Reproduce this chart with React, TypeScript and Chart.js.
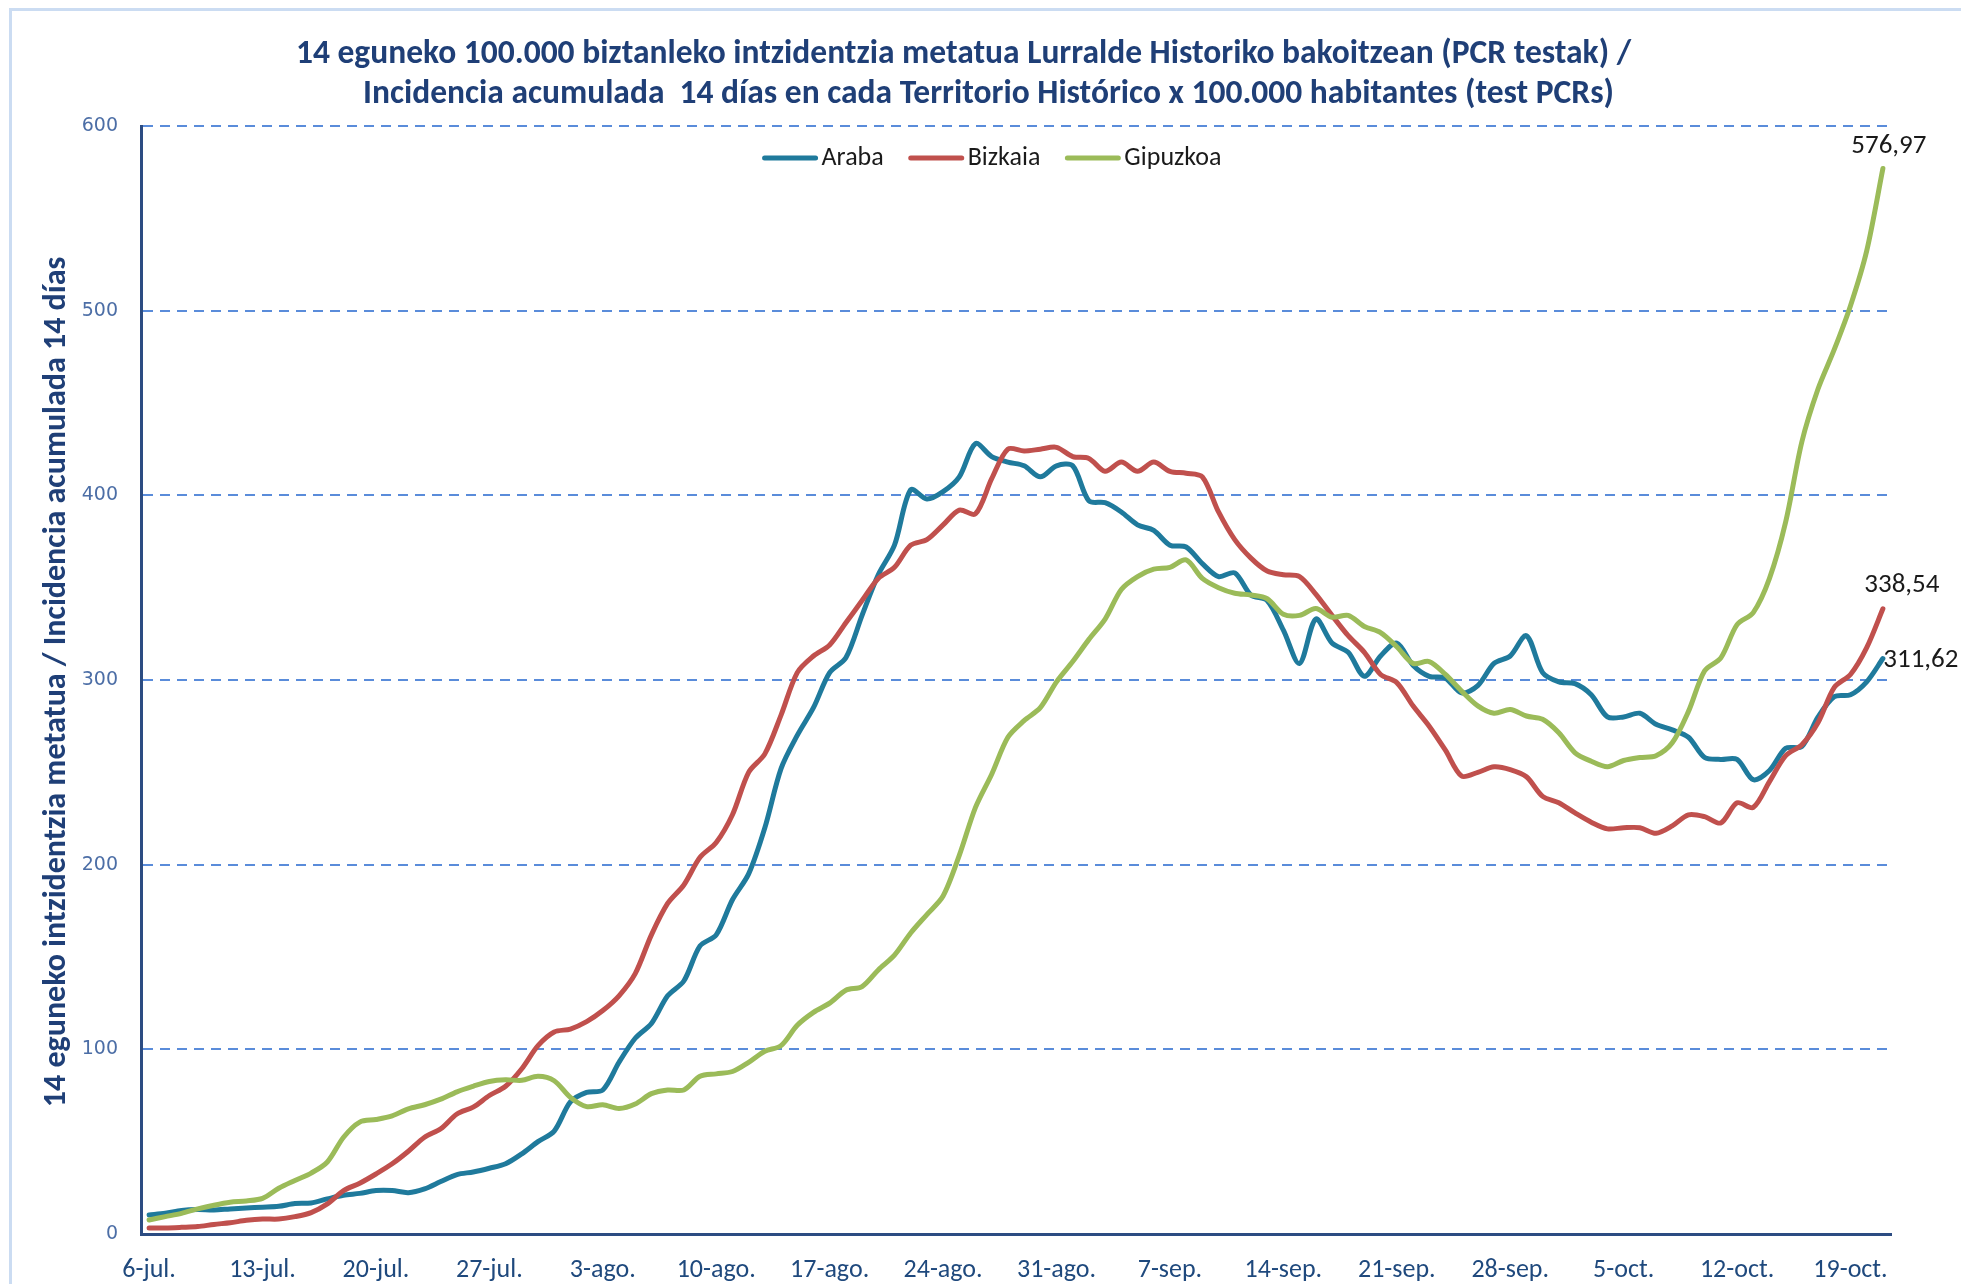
import React, { useEffect, useRef } from "react";
import { Chart, registerables } from "chart.js";

Chart.register(...registerables);

// ---------- categories ----------
const MONTH_NAMES = ["jul.", "ago.", "sep.", "oct."];
const MONTH_FIRST_DAY = [6, 1, 1, 1];
const MONTH_LAST_DAY = [31, 31, 30, 21];
const DATES: string[] = [];
MONTH_NAMES.forEach((m, k) => {
  for (let d = MONTH_FIRST_DAY[k]; d <= MONTH_LAST_DAY[k]; d++) DATES.push(`${d}-${m}`);
});

const TICK_LABELS = [
  "6-jul.", "13-jul.", "20-jul.", "27-jul.", "3-ago.", "10-ago.", "17-ago.", "24-ago.",
  "31-ago.", "7-sep.", "14-sep.", "21-sep.", "28-sep.", "5-oct.", "12-oct.", "19-oct.",
];

// ---------- series ----------
const ARABA = [
  10.3, 11.2, 12.7, 13.2, 13.0, 13.6, 14.1, 14.5, 15.0, 16.5,
  16.8, 19.0, 21.0, 22.0, 23.5, 23.5, 22.4, 24.4, 28.4, 32.2,
  33.6, 35.6, 38.0, 43.4, 50.0, 55.7, 71.5, 76.7, 78.0, 93.0,
  106, 114, 129, 137, 156, 162, 181, 195, 220, 252,
  270, 285, 304, 312, 335, 357, 373, 403, 398, 402,
  410, 428, 421, 418, 416, 410, 416, 416, 397, 396,
  391, 384, 381, 373, 372, 363, 356, 358, 346, 343,
  327, 309, 333, 320, 315, 302, 313, 320, 308, 302,
  301, 293, 297, 309, 313, 324, 304, 299, 298, 292,
  280, 280, 282, 276, 273, 269, 258, 257, 257, 246,
  251, 263, 264, 280, 291, 292, 299, 311.62,
];
const BIZKAIA = [
  3.3, 3.3, 3.6, 4.0, 5.2, 6.1, 7.4, 8.1, 8.1, 9.4,
  11.6, 16.3, 23.5, 27.5, 32.5, 38, 44.8, 52.4, 57, 65,
  68.7, 75, 80, 89.5, 102, 109.4, 111, 115, 121, 129,
  141, 162, 179, 189, 204, 212, 227, 250, 260, 281,
  304, 313, 319, 331, 343, 355, 361, 373, 376, 384,
  392, 390, 409, 425, 424, 425, 426, 421, 420, 413,
  418, 413, 418, 413, 412, 410, 391, 376, 366, 359,
  357, 356, 346.5, 335, 324, 315, 303, 298.6, 286, 275,
  262, 248, 250, 253, 251.5, 247.6, 237, 233.5, 228, 223,
  219.4, 220, 220, 217, 221, 227, 226, 222.6, 233.5, 231,
  245, 259, 265, 277, 296, 303, 317.5, 338.54,
];
const GIPUZKOA = [
  7.6, 9.4, 11.2, 13.6, 15.6, 17.2, 17.9, 19.3, 24.8, 29,
  33, 39, 52.4, 60.6, 62, 64, 67.8, 70, 73, 77,
  80, 82.6, 83.5, 83.2, 85.4, 83, 74, 69, 70, 68,
  70.4, 76, 78, 78, 85.4, 86.7, 88, 93, 99, 102,
  113, 120, 125, 132, 134, 143, 151, 163, 173, 183,
  205, 231, 249, 269, 278, 285, 299, 310, 322, 333,
  349, 356, 360, 361, 365, 355, 350, 347, 346, 344,
  335.6, 335, 338.7, 334, 335, 329, 325.7, 318, 309, 310,
  303, 294, 286, 282, 284, 280.5, 278.7, 271.4, 260.6, 256,
  253, 256.4, 258, 259, 266, 283, 305, 312, 330, 336.5,
  355, 385.6, 429, 457.7, 479, 502.7, 532.4, 576.97,
];

const SERIES_NAMES = ["Araba", "Bizkaia", "Gipuzkoa"];
const SERIES_VALUES = [ARABA, BIZKAIA, GIPUZKOA];
const SERIES_COLORS = ["#1F7A9C", "#C0504D", "#9BBB59"];
// offset of the last-value label relative to the last point (dx, dy of text centre)
const LAST_LABEL_OFFSETS = [[38, 2], [19, -24], [6, -22]];

const TITLE_LINES = [
  "14 eguneko 100.000 biztanleko intzidentzia metatua Lurralde Historiko bakoitzean (PCR testak) /",
  "Incidencia acumulada  14 días en cada Territorio Histórico x 100.000 habitantes (test PCRs)",
];
const TITLE_SHIFT = [-17, 8];
const Y_TITLE = "14 eguneko intzidentzia metatua / Incidencia acumulada 14 días";

const Y_MIN = 0;
const Y_MAX = 600;
const Y_STEP = 100;

const NARROW = "Carlito, 'Liberation Sans Narrow', 'Open Sans', sans-serif";
const TITLE_COLOR = "#1F3F77";
const AXIS_COLOR = "#2C4C82";
const GRID_COLOR = "#5A8CDA";

const fmt = (v: number) => v.toFixed(2).replace(".", ",");

const overlayPlugin = {
  id: "overlay",
  beforeDraw(chart: any) {
    const { ctx, width, height } = chart;
    ctx.save();
    ctx.fillStyle = "#ffffff";
    ctx.fillRect(0, 0, width, height);
    ctx.strokeStyle = "#CBDCF2";
    ctx.lineWidth = 3;
    ctx.strokeRect(10.5, 9.5, width + 40, height + 40);
    ctx.restore();
  },
  afterDraw(chart: any) {
    const { ctx, width, chartArea } = chart;
    ctx.save();
    // title
    ctx.fillStyle = TITLE_COLOR;
    ctx.font = `bold 33.5px ${NARROW}`;
    ctx.textAlign = "center";
    ctx.textBaseline = "middle";
    TITLE_LINES.forEach((t, i) => ctx.fillText(t, width / 2 + TITLE_SHIFT[i], 55 + i * 40));

    // y axis title
    ctx.save();
    ctx.translate(57, (chartArea.top + chartArea.bottom) / 2 + 2);
    ctx.rotate(-Math.PI / 2);
    ctx.font = `bold 32px ${NARROW}`;
    ctx.fillText(Y_TITLE, 0, 0);
    ctx.restore();

    // legend
    ctx.font = `26px ${NARROW}`;
    ctx.textAlign = "left";
    const lineLen = 55;
    const gapText = 4;
    const gapItem = 25;
    const widths = SERIES_NAMES.map((n) => lineLen + gapText + ctx.measureText(n).width);
    const total = widths.reduce((a, b) => a + b, 0) + gapItem * (SERIES_NAMES.length - 1);
    let x = 992 - total / 2;
    const ly = 158;
    SERIES_NAMES.forEach((n, i) => {
      ctx.strokeStyle = SERIES_COLORS[i];
      ctx.lineWidth = 5;
      ctx.lineCap = "round";
      ctx.beginPath();
      ctx.moveTo(x + 2, ly);
      ctx.lineTo(x + lineLen - 2, ly);
      ctx.stroke();
      ctx.fillStyle = "#1a1a1a";
      ctx.fillText(n, x + lineLen + gapText, ly);
      x += widths[i] + gapItem;
    });

    // last value labels
    ctx.font = `27px ${NARROW}`;
    ctx.textAlign = "center";
    ctx.fillStyle = "#1a1a1a";
    SERIES_VALUES.forEach((vals, i) => {
      const meta = chart.getDatasetMeta(i);
      const pt = meta.data[vals.length - 1];
      if (!pt) return;
      const [dx, dy] = LAST_LABEL_OFFSETS[i];
      ctx.fillText(fmt(vals[vals.length - 1]), pt.x + dx, pt.y + dy);
    });
    ctx.restore();
  },
};

export default function App() {
  const ref = useRef<HTMLCanvasElement | null>(null);
  useEffect(() => {
    if (!ref.current) return;
    const chart = new Chart(ref.current, {
      type: "line",
      data: {
        labels: DATES,
        datasets: SERIES_NAMES.map((name, i) => ({
          label: name,
          data: SERIES_VALUES[i],
          borderColor: SERIES_COLORS[i],
          backgroundColor: SERIES_COLORS[i],
          borderWidth: 5,
          pointRadius: 0,
          pointHoverRadius: 0,
          tension: 0.3,
          borderCapStyle: "round",
          borderJoinStyle: "round",
          fill: false,
          order: SERIES_NAMES.length - i,
        })),
      },
      options: {
        responsive: false,
        animation: false,
        events: [],
        layout: { padding: { top: 126, right: 70, left: 0, bottom: 0 } },
        plugins: {
          legend: { display: false },
          title: { display: false },
          tooltip: { enabled: false },
        },
        scales: {
          x: {
            type: "category",
            offset: true,
            grid: { display: false, drawTicks: false },
            border: { display: true, color: AXIS_COLOR, width: 3 },
            ticks: {
              autoSkip: false,
              maxRotation: 0,
              minRotation: 0,
              color: "#1F497D",
              font: { family: NARROW, size: 26 },
              padding: 21,
              callback: (_v: any, i: number) => (TICK_LABELS.includes(DATES[i]) ? DATES[i] : ""),
            },
            afterFit: (s: any) => {
              s.height = 50;
            },
          },
          y: {
            min: Y_MIN,
            max: Y_MAX,
            ticks: {
              stepSize: Y_STEP,
              color: "#4C6EA6",
              font: { family: "'DejaVu Sans', sans-serif", size: 19 },
              padding: 23,
            },
            grid: { color: GRID_COLOR, lineWidth: 2, drawTicks: false },
            border: { display: true, color: AXIS_COLOR, width: 3, dash: [10, 7] },
            afterFit: (s: any) => {
              s.width = 141;
            },
          },
        },
      },
      plugins: [overlayPlugin],
    });
    return () => chart.destroy();
  }, []);
  return (
    <div style={{ position: "fixed", left: 0, top: 0, width: 1961, height: 1284 }}>
      <canvas ref={ref} width={1961} height={1284} style={{ width: 1961, height: 1284, display: "block" }} />
    </div>
  );
}
